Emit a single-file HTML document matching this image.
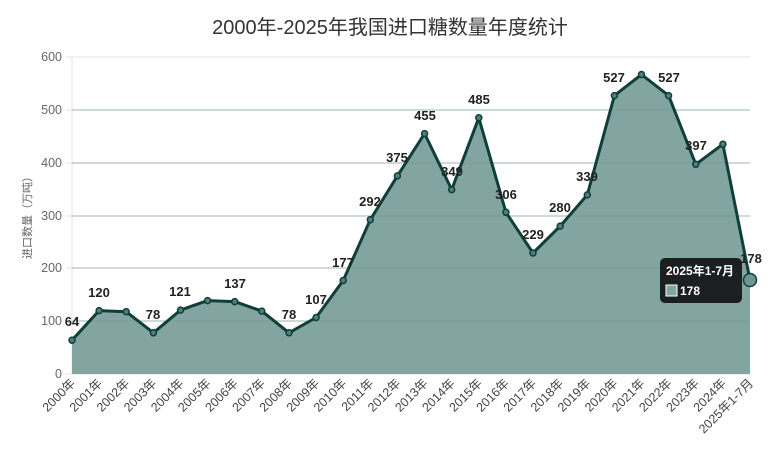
<!DOCTYPE html><html><head><meta charset="utf-8"><style>body{margin:0;background:#fff}svg{display:block}</style></head><body>
<svg width="780" height="452" xmlns="http://www.w3.org/2000/svg" font-family="Liberation Sans, Noto Sans CJK SC, sans-serif">
<text x="390" y="34" text-anchor="middle" font-size="20" fill="#333">2000年-2025年我国进口糖数量年度统计</text>
<g stroke="#e3e3e3" stroke-width="1">
<line x1="66" x2="750" y1="57" y2="57"/><line x1="66" x2="750" y1="110" y2="110"/><line x1="66" x2="750" y1="163" y2="163"/><line x1="66" x2="750" y1="216" y2="216"/><line x1="66" x2="750" y1="268" y2="268"/><line x1="66" x2="750" y1="321" y2="321"/><line x1="66" x2="750" y1="374" y2="374"/>
<line x1="72" x2="72" y1="57" y2="374"/></g>
<g font-size="12.5" fill="#666" text-anchor="end">
<text x="62" y="61">600</text><text x="62" y="114">500</text><text x="62" y="167">400</text><text x="62" y="220">300</text><text x="62" y="272">200</text><text x="62" y="325">100</text><text x="62" y="378">0</text></g>
<text transform="translate(31,215) rotate(-90)" text-anchor="middle" font-size="11" fill="#666">进口数量（万吨）</text>
<polygon fill="#82a5a1" points="72,374 72,340.2 99.1,310.6 126.2,311.7 153.4,332.8 180.5,310.1 207.6,300.6 234.7,301.6 261.8,311.1 289,332.8 316.1,317.5 343.2,280.5 370.3,219.7 397.4,175.9 424.6,133.6 451.7,189.6 478.8,117.8 505.9,212.3 533,253 560.2,226.1 587.3,194.9 614.4,95.6 641.5,74.5 668.6,95.6 695.8,164.3 722.9,144.2 750,280 750,374"/>
<g stroke="#6f9591" stroke-width="1" opacity="0.6"><line x1="72" x2="750" y1="321" y2="321"/><line x1="72" x2="750" y1="268" y2="268"/><line x1="72" x2="750" y1="216" y2="216"/><line x1="72" x2="750" y1="163" y2="163"/><line x1="72" x2="750" y1="110" y2="110"/></g>
<polyline fill="none" stroke="#0f3f38" stroke-width="3" stroke-linejoin="round" points="72,340.2 99.1,310.6 126.2,311.7 153.4,332.8 180.5,310.1 207.6,300.6 234.7,301.6 261.8,311.1 289,332.8 316.1,317.5 343.2,280.5 370.3,219.7 397.4,175.9 424.6,133.6 451.7,189.6 478.8,117.8 505.9,212.3 533,253 560.2,226.1 587.3,194.9 614.4,95.6 641.5,74.5 668.6,95.6 695.8,164.3 722.9,144.2 750,280"/>
<g fill="#4f7f78" stroke="#0f3f38" stroke-width="1.5">
<circle cx="72" cy="340.2" r="3"/><circle cx="99.1" cy="310.6" r="3"/><circle cx="126.2" cy="311.7" r="3"/><circle cx="153.4" cy="332.8" r="3"/><circle cx="180.5" cy="310.1" r="3"/><circle cx="207.6" cy="300.6" r="3"/><circle cx="234.7" cy="301.6" r="3"/><circle cx="261.8" cy="311.1" r="3"/><circle cx="289" cy="332.8" r="3"/><circle cx="316.1" cy="317.5" r="3"/><circle cx="343.2" cy="280.5" r="3"/><circle cx="370.3" cy="219.7" r="3"/><circle cx="397.4" cy="175.9" r="3"/><circle cx="424.6" cy="133.6" r="3"/><circle cx="451.7" cy="189.6" r="3"/><circle cx="478.8" cy="117.8" r="3"/><circle cx="505.9" cy="212.3" r="3"/><circle cx="533" cy="253" r="3"/><circle cx="560.2" cy="226.1" r="3"/><circle cx="587.3" cy="194.9" r="3"/><circle cx="614.4" cy="95.6" r="3"/><circle cx="641.5" cy="74.5" r="3"/><circle cx="668.6" cy="95.6" r="3"/><circle cx="695.8" cy="164.3" r="3"/><circle cx="722.9" cy="144.2" r="3"/></g>
<circle cx="750" cy="280" r="6.5" fill="#6f9591" stroke="#0f3f38" stroke-width="1.5"/>
<g font-size="13" font-weight="bold" fill="#222" text-anchor="middle">
<text x="72" y="326">64</text><text x="99" y="297">120</text><text x="153" y="319">78</text><text x="180" y="296">121</text><text x="235" y="288">137</text><text x="289" y="319">78</text><text x="316" y="304">107</text><text x="343" y="267">177</text><text x="370" y="206">292</text><text x="397" y="162">375</text><text x="425" y="120">455</text><text x="452" y="176">349</text><text x="479" y="104">485</text><text x="506" y="199">306</text><text x="533" y="239">229</text><text x="560" y="212">280</text><text x="587" y="181">339</text><text x="614" y="82">527</text><text x="669" y="82">527</text><text x="696" y="150">397</text><text x="751" y="263">178</text></g>
<rect x="660" y="258" width="82" height="45" rx="5" fill="#111" opacity="0.9"/>
<text x="666" y="275" font-size="12" font-weight="bold" fill="#fff">2025年1-7月</text>
<rect x="666" y="285" width="11" height="11" fill="#82a5a1" stroke="#fff" stroke-width="1"/>
<text x="680" y="295" font-size="12" font-weight="bold" fill="#fff">178</text>
<g font-size="12.5" fill="#444" text-anchor="end">
<text transform="translate(76,384) rotate(-45)">2000年</text><text transform="translate(103.1,384) rotate(-45)">2001年</text><text transform="translate(130.2,384) rotate(-45)">2002年</text><text transform="translate(157.4,384) rotate(-45)">2003年</text><text transform="translate(184.5,384) rotate(-45)">2004年</text><text transform="translate(211.6,384) rotate(-45)">2005年</text><text transform="translate(238.7,384) rotate(-45)">2006年</text><text transform="translate(265.8,384) rotate(-45)">2007年</text><text transform="translate(293,384) rotate(-45)">2008年</text><text transform="translate(320.1,384) rotate(-45)">2009年</text><text transform="translate(347.2,384) rotate(-45)">2010年</text><text transform="translate(374.3,384) rotate(-45)">2011年</text><text transform="translate(401.4,384) rotate(-45)">2012年</text><text transform="translate(428.6,384) rotate(-45)">2013年</text><text transform="translate(455.7,384) rotate(-45)">2014年</text><text transform="translate(482.8,384) rotate(-45)">2015年</text><text transform="translate(509.9,384) rotate(-45)">2016年</text><text transform="translate(537,384) rotate(-45)">2017年</text><text transform="translate(564.2,384) rotate(-45)">2018年</text><text transform="translate(591.3,384) rotate(-45)">2019年</text><text transform="translate(618.4,384) rotate(-45)">2020年</text><text transform="translate(645.5,384) rotate(-45)">2021年</text><text transform="translate(672.6,384) rotate(-45)">2022年</text><text transform="translate(699.8,384) rotate(-45)">2023年</text><text transform="translate(726.9,384) rotate(-45)">2024年</text><text transform="translate(754,384) rotate(-45)">2025年1-7月</text></g>
</svg></body></html>
